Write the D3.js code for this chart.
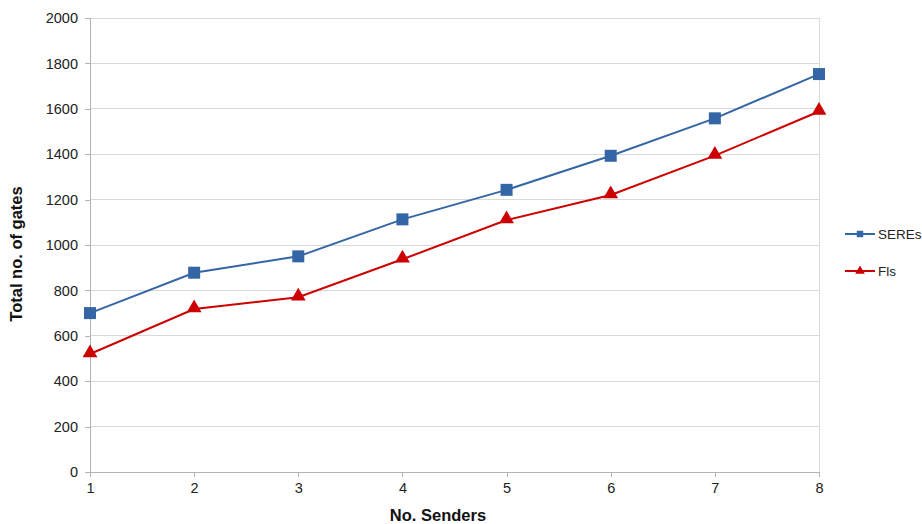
<!DOCTYPE html>
<html><head><meta charset="utf-8">
<script src="https://cdn.jsdelivr.net/npm/d3@7"></script>
<style>body{margin:0;background:#fff}svg{display:block}text{font-family:"Liberation Sans",Arial,sans-serif}</style>
</head><body><svg id="c" width="922" height="524"></svg>
<script>
const senders = [1,2,3,4,5,6,7,8];
const seres = [700,878,950,1113,1243,1393,1558,1753];
const fls = [520,718,770,937,1110,1220,1394,1588];
const yTicks = [0,200,400,600,800,1000,1200,1400,1600,1800,2000];
const seriesNames = ["SEREs","Fls"];

const svg = d3.select("#c");
const m = {l:90, r:103, t:18, b:52};
const W = 922, H = 524;
const x = d3.scaleLinear().domain([1,8]).range([m.l, W-m.r]);
const y = d3.scaleLinear().domain([0,2000]).range([H-m.b, m.t]);

svg.append("g").selectAll("line").data(yTicks.filter(d=>d>0)).join("line")
  .attr("x1",m.l).attr("x2",W-m.r).attr("y1",d=>y(d)).attr("y2",d=>y(d))
  .attr("stroke","#d9d9d9").attr("stroke-width",1).attr("shape-rendering","crispEdges");
svg.append("line").attr("x1",W-m.r).attr("x2",W-m.r).attr("y1",y(2000)).attr("y2",y(0))
  .attr("stroke","#d9d9d9").attr("shape-rendering","crispEdges");

const yAxis = svg.append("g").attr("transform",`translate(${m.l},0)`)
  .call(d3.axisLeft(y).tickValues(yTicks).tickSize(5).tickPadding(7).tickFormat(d3.format("d")));
const xAxis = svg.append("g").attr("transform",`translate(0,${y(0)})`)
  .call(d3.axisBottom(x).tickValues(senders).tickSize(5).tickPadding(6).tickFormat(d3.format("d")));
[yAxis,xAxis].forEach(a=>{
  a.select(".domain").attr("stroke","#b3b3b3").attr("shape-rendering","crispEdges");
  a.selectAll(".tick line").attr("stroke","#b3b3b3").attr("shape-rendering","crispEdges");
  a.selectAll("text").attr("font-size",14.5).attr("fill","#222").attr("font-family","Liberation Sans, Arial, sans-serif");
});

const colors = ["#3466a6","#cc0000"];
const data = [seres, fls];
const line = d3.line().x((d,i)=>x(senders[i])).y(d=>y(d));
const sym = [d3.symbol().type(d3.symbolSquare).size(144), d3.symbol().type(d3.symbolTriangle).size(95)];
data.forEach((vals,k)=>{
  svg.append("path").datum(vals).attr("d",line).attr("fill","none")
    .attr("stroke",colors[k]).attr("stroke-width",2);
  svg.append("g").selectAll("path").data(vals).join("path")
    .attr("d",sym[k]).attr("fill",colors[k])
    .attr("transform",(d,i)=>`translate(${x(senders[i])},${y(d)+(k===1?-1:0)})`);
});

const ly = [234, 271];
seriesNames.forEach((n,k)=>{
  const g = svg.append("g");
  g.append("line").attr("x1",845).attr("x2",875).attr("y1",ly[k]).attr("y2",ly[k])
    .attr("stroke",colors[k]).attr("stroke-width",2);
  g.append("path").attr("d",k===0?d3.symbol().type(d3.symbolSquare).size(42)():d3.symbol().type(d3.symbolTriangle).size(40)())
    .attr("fill",colors[k]).attr("transform",`translate(860,${ly[k]})`);
  g.append("text").attr("x",878).attr("y",ly[k]+5).attr("font-size",13.5).attr("fill","#222").text(n);
});

svg.append("text").attr("x",438).attr("y",521).attr("text-anchor","middle")
  .attr("font-size",16.5).attr("font-weight","bold").attr("fill","#111").text("No. Senders");
svg.append("text").attr("transform",`translate(22,254) rotate(-90)`).attr("text-anchor","middle")
  .attr("font-size",16.5).attr("font-weight","bold").attr("fill","#111").text("Total no. of gates");
</script></body></html>
